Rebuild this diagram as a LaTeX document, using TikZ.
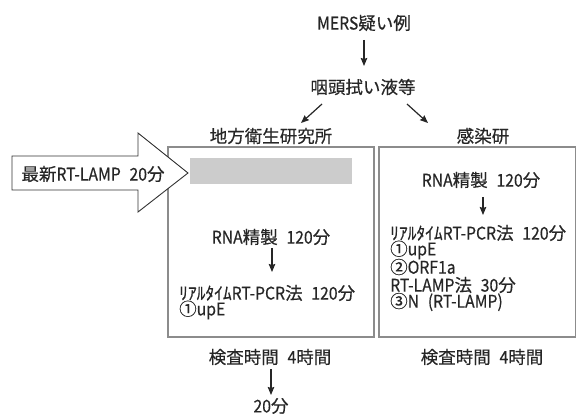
\documentclass[tikz,border=0pt]{standalone}
\usepackage{fontspec}
\setmainfont{Noto Sans CJK JP}[FakeBold=0.4]
\newfontfamily\narlat{Noto Sans CJK JP}[FakeStretch=0.9,FakeBold=0.4]
\newcommand\La[1]{{\narlat #1}}
\newcommand\jsp{\hspace{0.5em}}
\usetikzlibrary{arrows.meta}
\begin{document}
\begin{tikzpicture}[x=1pt,y=-1pt,
  txt/.style={inner sep=0pt,text=black!85,font=\fontsize{17.5}{19}\selectfont},
  ltxt/.style={txt,anchor=west},
  arr/.style={draw=black!85,line width=1.2pt,-{Stealth[length=8pt,width=6.5pt,inset=1pt]}},
  boxframe/.style={draw=black!45,line width=1.1pt},
  bigarrow/.style={draw=black!80,line width=0.9pt,fill=white}]
\useasboundingbox (0,0) rectangle (576,414);
% top
\node[txt] (mers) at (364,23) {\La{MERS}疑い例};
\node[txt] (swab) at (363,87) {咽頭拭い液等};
\node[txt] (chiho) at (271,136) {地方衛生研究所};
\node[txt] (niid) at (483,136) {感染研};
\coordinate (a1s) at (364,40); \coordinate (a1e) at (364,66);
\coordinate (dls) at (322,104); \coordinate (dle) at (301,123);
\coordinate (drs) at (407,104); \coordinate (dre) at (428,123);
\draw[arr] (a1s) -- (a1e);
\draw[arr] (dls) -- (dle);
\draw[arr] (drs) -- (dre);
% boxes
\draw[boxframe] (168,147) rectangle (374,337);
\draw[boxframe] (379,147) rectangle (575.5,337);
\fill[black!20] (190,158) rectangle (352,184);
% big arrow
\draw[bigarrow] (12,156) -- (138,156) -- (138,133) -- (188,173) -- (138,212) -- (138,190) -- (12,190) -- cycle;
\node[txt] (lamp) at (93,174) {最新\La{RT-LAMP}\jsp\La{20}分};
% left box
\node[txt] (lrna) at (271,237) {\La{RNA}精製\jsp\La{120}分};
\coordinate (l2s) at (272,248); \coordinate (l2e) at (272,272);
\draw[arr] (l2s) -- (l2e);
\node[ltxt] (lpcr) at (179,293) {ﾘｱﾙﾀｲﾑ\La{RT-PCR}法\jsp\La{120}分};
\node[ltxt] (lupe) at (179,310) {①\La{upE}};
% right box
\node[txt] (rrna) at (481,180) {\La{RNA}精製\jsp\La{120}分};
\coordinate (r2s) at (483,197); \coordinate (r2e) at (483,215);
\draw[arr] (r2s) -- (r2e);
\node[ltxt] (rpcr) at (390,233) {ﾘｱﾙﾀｲﾑ\La{RT-PCR}法\jsp\La{120}分};
\node[ltxt] (rupe) at (390,250) {①\La{upE}};
\node[ltxt] (rorf) at (390,267) {②\La{ORF1a}};
\node[ltxt] (rlamp) at (390,285) {\La{RT-LAMP}法\jsp\La{30}分};
\node[ltxt] (rn) at (390,302) {③\La{N}\jsp\La{(RT-LAMP)}};
% bottom
\node[txt] (ltime) at (270,357) {検査時間\jsp\La{4}時間};
\node[txt] (rtime) at (482,357) {検査時間\jsp\La{4}時間};
\coordinate (b1s) at (271,369); \coordinate (b1e) at (271,395);
\draw[arr] (b1s) -- (b1e);
\node[txt] (twenty) at (271,406) {\La{20}分};
\end{tikzpicture}
\end{document}
